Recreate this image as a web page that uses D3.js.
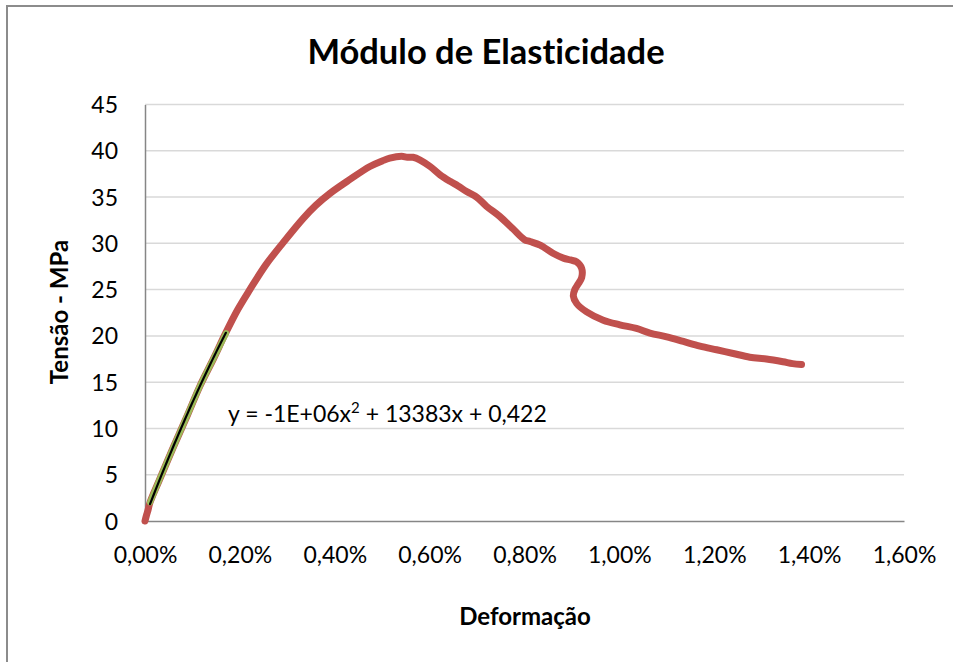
<!DOCTYPE html>
<html>
<head>
<meta charset="utf-8">
<script src="https://cdn.jsdelivr.net/npm/d3@7/dist/d3.min.js"></script>
<style>
  html, body { margin: 0; padding: 0; background: #fff; }
  svg { display: block; }
  text { font-family: Lato, "Open Sans", "DejaVu Sans", sans-serif; fill: #000; font-variant-ligatures: none; }
</style>
</head>
<body>
<svg id="chart" width="953" height="662"></svg>
<script>
// Stress–strain test: strain in %, stress in MPa
const strain = [0, 0.003, 0.006, 0.0105, 0.03, 0.06, 0.09, 0.116, 0.145, 0.169, 0.195, 0.221,
  0.255, 0.2916, 0.3337, 0.36, 0.39, 0.432, 0.474, 0.50, 0.516, 0.541, 0.553, 0.565,
  0.58, 0.601, 0.622, 0.643, 0.66, 0.678, 0.699, 0.72, 0.748, 0.775, 0.80, 0.8116,
  0.833, 0.861, 0.882, 0.897, 0.910, 0.9205, 0.9205, 0.913, 0.906, 0.903, 0.910,
  0.931, 0.966, 1.001, 1.036, 1.0645, 1.10, 1.135, 1.17, 1.205, 1.24, 1.275, 1.31,
  1.345, 1.365, 1.384];
const stress = [0, 0.6, 1.1, 2.0, 4.4, 8.0, 11.5, 14.6, 17.6, 20.2, 22.8, 25.0,
  27.7, 30.1, 32.7, 34.1, 35.4, 36.9, 38.3, 38.9, 39.2, 39.4, 39.3, 39.3,
  39.0, 38.3, 37.4, 36.7, 36.2, 35.6, 35.0, 34.0, 32.9, 31.6, 30.4, 30.2,
  29.8, 28.9, 28.4, 28.2, 28.0, 27.3, 26.3, 25.6, 25.0, 24.3, 23.5,
  22.6, 21.7, 21.2, 20.8, 20.3, 19.9, 19.4, 18.9, 18.5, 18.1, 17.7, 17.5,
  17.2, 17.0, 16.9];

// Linear-range subset used for the fit
const fitStrain = [0.0105, 0.03, 0.06, 0.09, 0.116, 0.145, 0.171];
const fitStress = [2.0, 4.4, 8.0, 11.5, 14.6, 17.6, 20.3];

// Polynomial trendline y = a·x² + b·x + c (x as fraction)
const trendCoef = { a: -1e6, b: 13383, c: 0.422 };
const trendLabel = "0,422";

const xTicks = [0, 0.2, 0.4, 0.6, 0.8, 1.0, 1.2, 1.4, 1.6];
const yTicks = [0, 5, 10, 15, 20, 25, 30, 35, 40, 45];

const title = "Módulo de Elasticidade";
const xTitle = "Deformação";
const yTitle = "Tensão - MPa";

const svg = d3.select("#chart");

// Outer frame
svg.append("rect")
  .attr("x", 7).attr("y", 6).attr("width", 960).attr("height", 680)
  .attr("fill", "#fff").attr("stroke", "#8c8c8c").attr("stroke-width", 2);

const plot = { left: 145, right: 904, top: 104.5, bottom: 521 };

const x = d3.scaleLinear().domain([0, 1.6]).range([plot.left, plot.right]);
const y = d3.scaleLinear().domain([0, 45]).range([plot.bottom, plot.top]);

// Horizontal gridlines
svg.append("g")
  .selectAll("line")
  .data(yTicks.filter(d => d > 0))
  .join("line")
  .attr("x1", plot.left).attr("x2", plot.right)
  .attr("y1", d => y(d)).attr("y2", d => y(d))
  .attr("stroke", "#d9d9d9").attr("stroke-width", 1.5);

// Y axis
const yAxis = svg.append("g")
  .attr("transform", `translate(${plot.left},0)`)
  .call(d3.axisLeft(y).tickValues(yTicks).tickSize(0).tickPadding(27).tickFormat(d3.format("d")));
yAxis.select(".domain").attr("stroke", "#868686").attr("stroke-width", 1.5);
yAxis.selectAll("text").attr("font-size", 23).attr("dy", "0.35em")
  .style("font-family", "Lato, sans-serif");

// X axis
const pct = d => d.toFixed(2).replace(".", ",") + "%";
const xAxis = svg.append("g")
  .attr("transform", `translate(0,${plot.bottom})`)
  .call(d3.axisBottom(x).tickValues(xTicks).tickSize(0).tickPadding(34).tickFormat(pct));
xAxis.select(".domain").attr("stroke", "#868686").attr("stroke-width", 1.5);
xAxis.selectAll("text").attr("font-size", 23).attr("dy", "0.35em")
  .style("font-family", "Lato, sans-serif");

// Measured curve
const pts = strain.map((s, i) => [s, stress[i]]);
const line = d3.line().x(d => x(d[0])).y(d => y(d[1])).curve(d3.curveCatmullRom.alpha(0.5));
svg.append("path")
  .datum(pts)
  .attr("d", line)
  .attr("fill", "none")
  .attr("stroke", "#c0504d")
  .attr("stroke-width", 7)
  .attr("stroke-linecap", "round")
  .attr("stroke-linejoin", "round");

// Linear-range series
const fitPts = fitStrain.map((s, i) => [s, fitStress[i]]);
svg.append("path")
  .datum(fitPts)
  .attr("d", line)
  .attr("fill", "none")
  .attr("stroke", "#9bbb59")
  .attr("stroke-width", 6)
  .attr("stroke-linecap", "round");

// Trendline over the fitted range
const trend = d3.range(fitStrain[0], fitStrain[fitStrain.length - 1] + 1e-9, 0.004).map(p => {
  const f = p / 100;
  return [p, trendCoef.a * f * f + trendCoef.b * f + trendCoef.c];
});
svg.append("path")
  .datum(trend)
  .attr("d", d3.line().x(d => x(d[0])).y(d => y(d[1])))
  .attr("fill", "none")
  .attr("stroke", "#000")
  .attr("stroke-width", 2.2)
  .attr("stroke-linecap", "round");

// Trendline equation
const eq = svg.append("text")
  .attr("x", 228).attr("y", 422)
  .attr("font-size", 23);
eq.append("tspan").text("y = -1E+06x");
eq.append("tspan").attr("font-size", 15).attr("dy", -9).text("2");
eq.append("tspan").attr("dy", 9).text(` + ${trendCoef.b}x + ${trendLabel}`);

// Titles
svg.append("text")
  .attr("x", 486).attr("y", 64)
  .attr("text-anchor", "middle")
  .attr("font-size", 34.5).attr("font-weight", "bold")
  .text(title);

svg.append("text")
  .attr("x", 525).attr("y", 625)
  .attr("text-anchor", "middle")
  .attr("font-size", 24).attr("font-weight", "bold")
  .text(xTitle);

svg.append("text")
  .attr("transform", "translate(68,312) rotate(-90)")
  .attr("text-anchor", "middle")
  .attr("font-size", 24).attr("font-weight", "bold")
  .text(yTitle);
</script>
</body>
</html>
